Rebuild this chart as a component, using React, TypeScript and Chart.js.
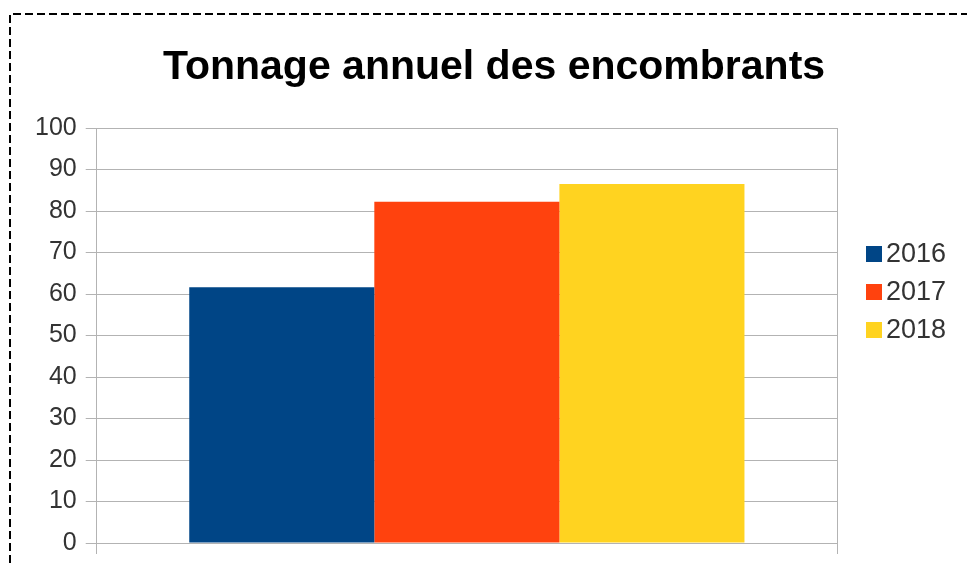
import React, { useEffect, useRef } from "react";
import { Chart, registerables } from "chart.js";

Chart.register(...registerables);

const categories: string[] = [""];
const seriesLabels: string[] = ["2016", "2017", "2018"];
const values2016: number[] = [61.6];
const values2017: number[] = [82.2];
const values2018: number[] = [86.5];
const seriesColors: string[] = ["#004586", "#ff420e", "#ffd320"];
const titleText = "Tonnage annuel des encombrants";
const yMin = 0;
const yMax = 100;
const yStep = 10;

const FONT = "'Liberation Sans', Arial, sans-serif";
const GRID = "#b3b3b3";

const frameAndLegend = {
  id: "frameAndLegend",
  afterDraw(chart: any) {
    const ctx = chart.ctx;
    const area = chart.chartArea;
    ctx.save();
    // dashed frame
    ctx.strokeStyle = "#000";
    ctx.lineWidth = 2;
    ctx.setLineDash([8, 4]);
    ctx.beginPath();
    ctx.moveTo(10, 563);
    ctx.lineTo(10, 14);
    ctx.lineTo(967, 14);
    ctx.stroke();
    ctx.setLineDash([]);
    // legend
    const x0 = area.right + 29;
    const yFirst = 254;
    const step = 38;
    ctx.font = `27px ${FONT}`;
    ctx.textBaseline = "middle";
    ctx.textAlign = "left";
    chart.data.datasets.forEach((ds: any, i: number) => {
      const cy = yFirst + i * step;
      ctx.fillStyle = ds.backgroundColor;
      ctx.fillRect(x0, cy - 8, 16, 16);
      ctx.fillStyle = "#333333";
      ctx.fillText(ds.label, x0 + 20, cy + 1);
    });
    ctx.restore();
  },
};

export default function App() {
  const ref = useRef<HTMLCanvasElement | null>(null);

  useEffect(() => {
    if (!ref.current) return;
    const seriesValues = [values2016, values2017, values2018];
    const chart = new Chart(ref.current, {
      type: "bar",
      data: {
        labels: categories,
        datasets: seriesLabels.map((label, i) => ({
          label,
          data: seriesValues[i],
          backgroundColor: seriesColors[i],
          borderWidth: 0,
          categoryPercentage: 0.75,
          barPercentage: 1.0,
        })),
      },
      options: {
        responsive: false,
        animation: false,
        layout: { padding: { left: 26, right: 5, top: 0, bottom: 9 } },
        plugins: {
          legend: { display: false },
          tooltip: { enabled: false },
          title: {
            display: true,
            text: titleText,
            color: "#000000",
            font: { family: FONT, size: 41, weight: "bold" },
            padding: { top: 43.4, bottom: 35.4 },
          },
        },
        scales: {
          x: {
            type: "category",
            grid: {
              display: true,
              color: GRID,
              lineWidth: 1,
              drawTicks: true,
              tickLength: 11,
              offset: true,
            },
            border: { display: true, color: GRID },
            ticks: { display: false },
          },
          y: {
            min: yMin,
            max: yMax,
            ticks: {
              stepSize: yStep,
              color: "#333333",
              font: { family: FONT, size: 25 },
              padding: 9,
            },
            grid: { color: GRID, lineWidth: 1, tickLength: 11 },
            border: { display: true, color: GRID },
            afterFit: (s: any) => {
              s.paddingTop = 0;
              s.paddingBottom = 0;
            },
          },
          yRight: {
            type: "linear",
            position: "right",
            display: true,
            grid: { display: false },
            border: { display: false },
            ticks: { display: false },
            afterFit: (s: any) => {
              s.width = 125;
            },
          },
        },
      },
      plugins: [frameAndLegend],
    });
    return () => chart.destroy();
  }, []);

  return (
    <div style={{ position: "fixed", left: 0, top: 0, width: 967, height: 563, background: "#fff" }}>
      <canvas ref={ref} width={967} height={563} style={{ display: "block" }} />
    </div>
  );
}
